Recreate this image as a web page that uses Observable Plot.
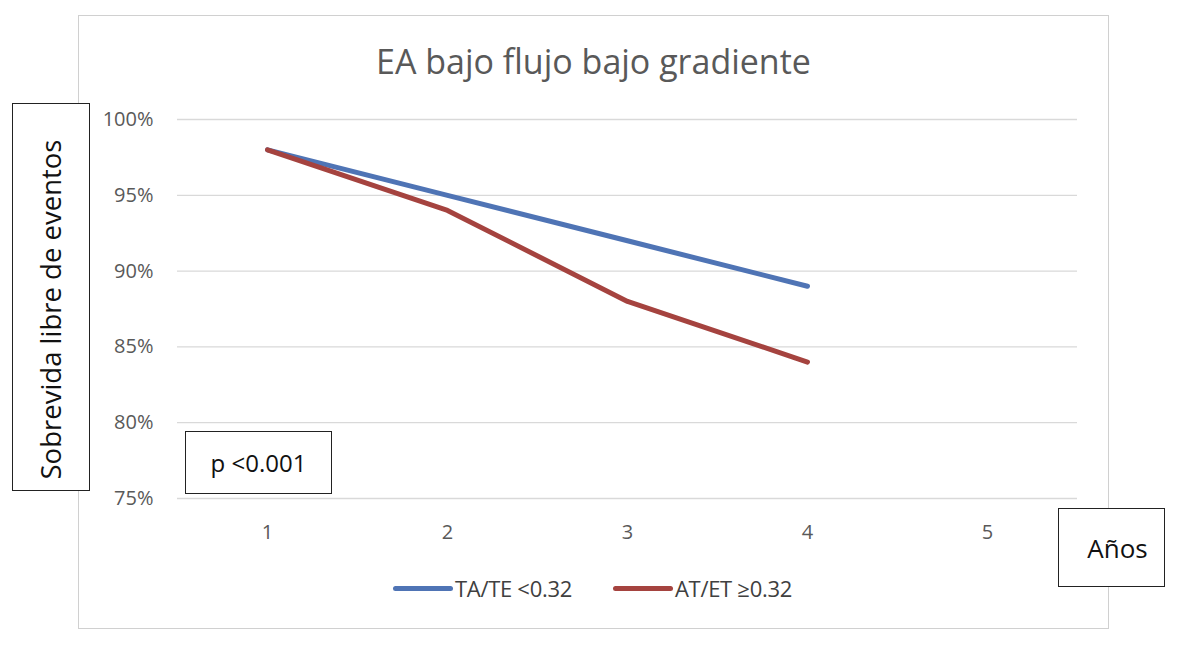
<!DOCTYPE html>
<html><head><meta charset="utf-8">
<script src="https://cdn.jsdelivr.net/npm/d3@7"></script>
<script src="https://cdn.jsdelivr.net/npm/@observablehq/plot@0.6"></script>
<style>
body{margin:0;background:#fff;font-family:"Open Sans",sans-serif;}
#wrap{position:relative;width:1200px;height:645px;overflow:hidden;}
#wrap svg{position:absolute;left:0;top:0;}
.box{position:absolute;border:1.3px solid #222;background:#fff;box-sizing:border-box;display:flex;align-items:center;justify-content:center;color:#111;}
#frame{position:absolute;left:78px;top:15px;width:1031px;height:614px;border:1.5px solid #d0d0d0;box-sizing:border-box;}
#title{position:absolute;left:78px;width:1031px;top:38px;text-align:center;font-size:34px;color:#595959;}
.leg{position:absolute;top:574px;font-size:22px;letter-spacing:-0.3px;color:#404040;line-height:28px;white-space:nowrap;}
.sw{position:absolute;top:586px;width:60px;height:5px;border-radius:3px;}
</style></head>
<body><div id="wrap">
<div id="frame"></div>
</div>
<script>
const years = [1, 2, 3, 4];
const xTicks = [1, 2, 3, 4, 5];
const yTicks = [0.75, 0.80, 0.85, 0.90, 0.95, 1.00];
const seriesNames = ["TA/TE <0.32", "AT/ET ≥0.32"];
const blueValues = [0.98, 0.95, 0.92, 0.89];
const redValues = [0.98, 0.94, 0.88, 0.84];
const colors = ["#4F74B5", "#A5433F"];

const data = [
  ...years.map((y, i) => ({year: y, value: blueValues[i], series: seriesNames[0]})),
  ...years.map((y, i) => ({year: y, value: redValues[i], series: seriesNames[1]}))
];

const chart = Plot.plot({
  width: 1200, height: 645,
  marginLeft: 177, marginRight: 123, marginTop: 119, marginBottom: 147,
  style: {fontFamily: "Open Sans, sans-serif", fontSize: "20px", color: "#595959", background: "transparent"},
  x: {domain: [0.5, 5.5], label: null},
  y: {domain: [0.75, 1.0], label: null},
  color: {domain: seriesNames, range: colors},
  marks: [
    Plot.ruleY(yTicks, {stroke: "#d9d9d9", strokeWidth: 1.3}),
    Plot.axisY({ticks: yTicks, tickFormat: d => Math.round(d * 100) + "%", tickSize: 0, tickPadding: 24, label: null, fill: "#595959", fontSize: 20}),
    Plot.axisX({ticks: xTicks, tickFormat: d => String(d), tickSize: 0, tickPadding: 26, label: null, fill: "#595959", fontSize: 20}),
    Plot.line(data, {x: "year", y: "value", z: "series", stroke: "series", strokeWidth: 5, strokeLinecap: "round", strokeLinejoin: "round"})
  ]
});
const wrap = document.getElementById("wrap");
wrap.appendChild(chart);

const title = document.createElement("div");
title.id = "title"; title.textContent = "EA bajo flujo bajo gradiente";
wrap.appendChild(title);

const ylab = document.createElement("div");
ylab.className = "box";
Object.assign(ylab.style, {left: "12px", top: "103px", width: "78px", height: "388px"});
ylab.innerHTML = '<span style="transform:translateY(12px) rotate(-90deg);white-space:nowrap;font-size:27.5px;">Sobrevida libre de eventos</span>';
wrap.appendChild(ylab);

const pbox = document.createElement("div");
pbox.className = "box";
Object.assign(pbox.style, {left: "185px", top: "431px", width: "147px", height: "63px", fontSize: "24px"});
pbox.textContent = "p <0.001";
wrap.appendChild(pbox);

const xbox = document.createElement("div");
xbox.className = "box";
Object.assign(xbox.style, {left: "1058px", top: "508px", width: "107px", height: "79px", fontSize: "26px", paddingLeft: "12px"});
xbox.textContent = "Años";
wrap.appendChild(xbox);

const legPos = [{sw: 393, tx: 455}, {sw: 613, tx: 675}];
seriesNames.forEach((n, i) => {
  const sw = document.createElement("div");
  sw.className = "sw";
  Object.assign(sw.style, {left: legPos[i].sw + "px", background: colors[i]});
  wrap.appendChild(sw);
  const tx = document.createElement("div");
  tx.className = "leg";
  tx.style.left = legPos[i].tx + "px";
  tx.textContent = n;
  wrap.appendChild(tx);
});
</script>
</body></html>
